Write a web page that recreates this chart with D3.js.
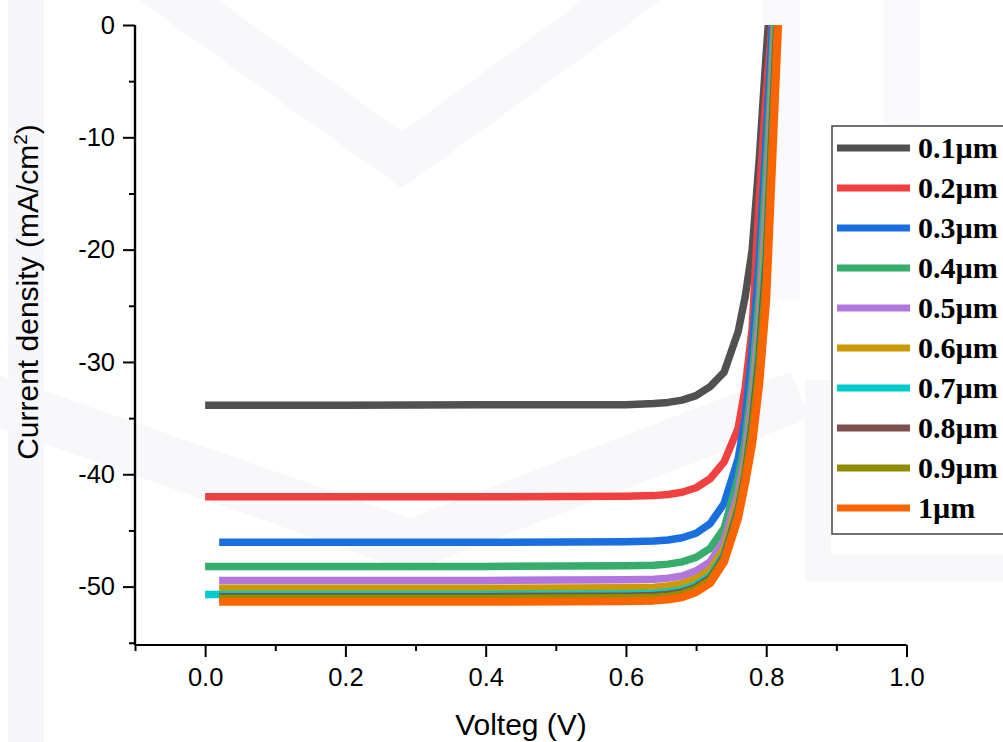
<!DOCTYPE html>
<html lang="en">
<head>
<meta charset="utf-8">
<title>J-V curves</title>
<script src="https://cdnjs.cloudflare.com/ajax/libs/d3/7.8.5/d3.min.js"></script>
<style>
body { margin: 0; background: #fff; }
svg { display: block; }
.tick text { font-family: "Liberation Sans", Arial, sans-serif; font-size: 25.5px; fill: #000; }
</style>
</head>
<body>
<svg width="1003" height="742"></svg>
<script>
// thickness labels + Origin "colorful" palette
var labels = ["0.1µm", "0.2µm", "0.3µm", "0.4µm", "0.5µm", "0.6µm", "0.7µm", "0.8µm", "0.9µm", "1µm"];
var colors = ["#515151", "#F14040", "#1A6FDF", "#37AD6B", "#B177DE", "#CC9900", "#00CBCC", "#7D4E4E", "#8E8E00", "#FB6501"];

// first voltage of each curve, current there, and open circuit voltage (J = 0)
var vStart = [0, 0, 0.02, 0, 0.02, 0.02, 0, 0.02, 0.02, 0.02];
var jStart = [-33.85, -42.0, -46.05, -48.2, -49.45, -50.15, -50.7, -50.9, -51.05, -51.35];
var voc = [0.803, 0.808, 0.809, 0.811, 0.812, 0.813, 0.814, 0.815, 0.816, 0.817];

// shared voltage grid (V) and current density per thickness (mA/cm2)
var vGrid = [0.2, 0.4, 0.6, 0.64, 0.66, 0.68, 0.70, 0.72, 0.74, 0.76, 0.77, 0.78, 0.79, 0.80];
var j01 = [-33.85, -33.8, -33.8, -33.7, -33.6, -33.4, -33.0, -32.2, -30.9, -27.3, -24.2, -20.0, -12.0, -2.5];
var j02 = [-42.0, -42.0, -41.95, -41.9, -41.8, -41.6, -41.2, -40.4, -38.9, -35.9, -32.3, -27.0, -15.5, -6.0];
var j03 = [-46.05, -46.05, -46.0, -45.95, -45.85, -45.65, -45.25, -44.4, -42.6, -38.6, -35.0, -29.0, -21.0, -10.0];
var j04 = [-48.2, -48.2, -48.15, -48.1, -48.0, -47.8, -47.4, -46.6, -44.8, -40.3, -37.0, -31.5, -24.0, -13.0];
var j05 = [-49.45, -49.45, -49.4, -49.35, -49.25, -49.05, -48.6, -47.8, -45.9, -41.6, -38.3, -33.0, -26.0, -16.0];
var j06 = [-50.15, -50.15, -50.1, -50.05, -49.95, -49.75, -49.3, -48.5, -46.6, -42.4, -39.2, -34.3, -27.5, -18.0];
var j07 = [-50.7, -50.7, -50.65, -50.6, -50.5, -50.3, -49.85, -49.05, -47.1, -43.0, -39.8, -35.0, -28.5, -19.5];
var j08 = [-50.9, -50.9, -50.85, -50.8, -50.7, -50.5, -50.05, -49.25, -47.3, -43.2, -40.0, -35.5, -29.5, -21.0];
var j09 = [-51.05, -51.05, -51.0, -50.95, -50.85, -50.65, -50.2, -49.4, -47.5, -43.5, -40.3, -36.2, -30.5, -22.5];
var j10 = [-51.35, -51.35, -51.3, -51.25, -51.15, -50.95, -50.5, -49.7, -47.8, -43.9, -40.8, -37.3, -32.0, -24.5];
var jAll = [j01, j02, j03, j04, j05, j06, j07, j08, j09, j10];

var xMajor = [0, 0.2, 0.4, 0.6, 0.8, 1.0];
var xMinor = [-0.1, 0.1, 0.3, 0.5, 0.7, 0.9];
var yMajor = [-50, -40, -30, -20, -10, 0];
var yMinor = [-55, -45, -35, -25, -15, -5];

var svg = d3.select("svg");

var x = d3.scaleLinear().domain([-0.1, 1.0]).range([135, 906.5]);
var y = d3.scaleLinear().domain([-55.2, 0]).range([645, 25]);

// faint watermark in the background
var wm = svg.append("g").attr("fill", "none").attr("stroke", "#f8f8fb").attr("stroke-linejoin", "miter");
wm.append("rect").attr("x", 8).attr("y", 0).attr("width", 36).attr("height", 742).attr("fill", "#f6f6fb").attr("stroke", "none");
wm.append("polyline").attr("points", "150,-20 402,160 650,-20").attr("stroke-width", 46);
wm.append("polyline").attr("points", "-20,395 410,545 800,395").attr("stroke-width", 50);
wm.append("polyline").attr("points", "818,380 818,568 1010,568").attr("stroke-width", 26);
wm.append("rect").attr("x", 763).attr("y", 0).attr("width", 37).attr("height", 300).attr("fill", "#faf9fc").attr("stroke", "none");
wm.append("rect").attr("x", 884).attr("y", 0).attr("width", 36).attr("height", 130).attr("fill", "#faf9fc").attr("stroke", "none");

svg.append("clipPath").attr("id", "plot")
  .append("rect").attr("x", 135).attr("y", 25).attr("width", 772).attr("height", 620);

var line = d3.line()
  .x(function(d) { return x(d[0]); })
  .y(function(d) { return y(d[1]); });

var series = labels.map(function(lab, i) {
  var pts = [[vStart[i], jStart[i]]];
  vGrid.forEach(function(v, k) { pts.push([v, jAll[i][k]]); });
  pts.push([voc[i], 0]);
  return pts;
});

svg.append("g").attr("clip-path", "url(#plot)")
  .selectAll("path")
  .data(series)
  .enter().append("path")
    .attr("d", line)
    .attr("fill", "none")
    .attr("stroke", function(d, i) { return colors[i]; })
    .attr("stroke-width", function(d, i) { return i == 9 ? 8 : 7.5; })
    .attr("stroke-linejoin", "round");

// axes
var gx = svg.append("g").attr("transform", "translate(0,645)");
gx.call(d3.axisBottom(x).tickValues(xMajor).tickSize(12).tickPadding(8).tickFormat(d3.format(".1f")));
gx.append("g").call(d3.axisBottom(x).tickValues(xMinor).tickSize(6).tickFormat(""));
gx.selectAll(".domain").attr("stroke-width", 2.2);
gx.selectAll(".tick line").attr("stroke-width", 2);
gx.selectAll(".tick text").attr("dy", "0.82em");

var gy = svg.append("g").attr("transform", "translate(135,0)");
gy.call(d3.axisLeft(y).tickValues(yMajor).tickSize(12).tickPadding(8)
  .tickFormat(function(d) { return String(d); }));
gy.append("g").call(d3.axisLeft(y).tickValues(yMinor).tickSize(6).tickFormat(""));
gy.selectAll(".domain").attr("stroke-width", 2.2);
gy.selectAll(".tick line").attr("stroke-width", 2);
gy.selectAll("path.domain").attr("d", "M0,25V645");
gx.selectAll("path.domain").attr("d", "M135,0H906.5");

// axis titles
svg.append("text")
  .attr("x", 521).attr("y", 735)
  .attr("text-anchor", "middle")
  .attr("font-family", "Liberation Sans, Arial, sans-serif")
  .attr("font-size", 30)
  .text("Volteg (V)");

var yt = svg.append("text")
  .attr("transform", "translate(38,292) rotate(-90)")
  .attr("text-anchor", "middle")
  .attr("font-family", "Liberation Sans, Arial, sans-serif")
  .attr("font-size", 30);
yt.append("tspan").text("Current density (mA/cm");
yt.append("tspan").attr("font-size", 19).attr("dy", -11).text("2");
yt.append("tspan").attr("dy", 11).text(")");

// legend
var lg = svg.append("g");
lg.append("rect")
  .attr("x", 832).attr("y", 126).attr("width", 190).attr("height", 408)
  .attr("fill", "#fff").attr("stroke", "#444").attr("stroke-width", 1.5);
var rows = lg.selectAll("g.row").data(labels).enter().append("g")
  .attr("class", "row")
  .attr("transform", function(d, i) { return "translate(0," + (148 + i * 40) + ")"; });
rows.append("line")
  .attr("x1", 837).attr("x2", 910)
  .attr("stroke", function(d, i) { return colors[i]; })
  .attr("stroke-width", 7);
rows.append("text")
  .attr("x", 918).attr("y", 10)
  .attr("font-family", "Liberation Serif, Times New Roman, serif")
  .attr("font-weight", "bold")
  .attr("font-size", 30)
  .text(function(d) { return d; });
</script>
</body>
</html>
